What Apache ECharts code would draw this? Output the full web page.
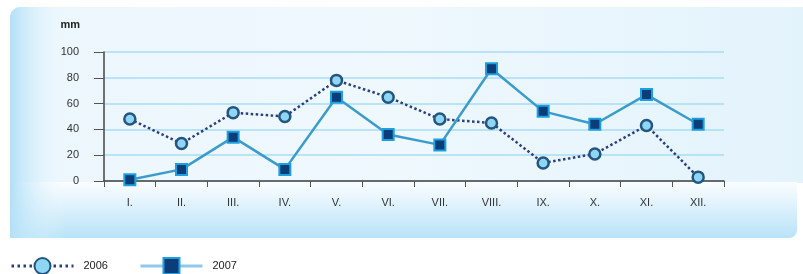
<!DOCTYPE html>
<html><head><meta charset="utf-8">
<script src="https://cdn.jsdelivr.net/npm/echarts@6/dist/echarts.min.js"></script>
<style>html,body{margin:0;padding:0;background:#fff}#c{width:803px;height:274px}</style>
</head><body><div id="c"></div>
<script>
const months = ['I.','II.','III.','IV.','V.','VI.','VII.','VIII.','IX.','X.','XI.','XII.'];
const s2006 = [48, 29, 53, 50, 78, 65, 48, 45, 14, 21, 43, 3];
const s2007 = [1, 9, 34, 9, 65, 36, 28, 87, 54, 44, 67, 44];
const yTicks = {min: 0, max: 100, interval: 20};
const FONT = '"Liberation Sans", Arial, sans-serif';

const chart = echarts.init(document.getElementById('c'));
const LG = echarts.graphic.LinearGradient;
chart.setOption({
  animation: false,
  graphic: [
    {type:'rect', z:-10, silent:true, shape:{x:10,y:7,width:793,height:176,r:[10,0,0,0]},
     style:{fill:new LG(0,0,1,0,[{offset:0,color:'#ecf7fd'},{offset:0.5,color:'#eef8fd'},{offset:1,color:'#e3f3fc'}])}},
    {type:'rect', z:-9, silent:true, shape:{x:10,y:182,width:787,height:56,r:[0,0,8,0]},
     style:{fill:new LG(0,0,0,1,[{offset:0,color:'#fbfdff'},{offset:1,color:'#b8e3f8'}])}},
    {type:'rect', z:-8, silent:true, shape:{x:10,y:7,width:55,height:231,r:[10,0,0,0]},
     style:{fill:new LG(0,0,1,0,[{offset:0,color:'rgba(178,224,247,1)'},{offset:1,color:'rgba(240,249,254,0)'}])}}
  ],
  grid: {left: 104, right: 79, top: 52, bottom: 93, containLabel: false},
  legend: {
    left: 10, top: 257, padding: 0, itemWidth: 62, itemHeight: 20, itemGap: 31,
    textStyle: {fontFamily: FONT, fontSize: 11, color: '#222', padding: [0,0,0,5]},
    data: [
      {name:'2006', lineStyle:{width:3, type:[2.5,3.5], color:'#2b3f80'}},
      {name:'2007', lineStyle:{width:3, type:'solid', color:'#8fc9ea'}}
    ]
  },
  xAxis: {
    type: 'category', data: months, boundaryGap: true,
    axisLine: {lineStyle: {color: '#444', width: 1.5}},
    axisTick: {show: true, length: 6, lineStyle: {color: '#555'}},
    axisLabel: {fontFamily: FONT, fontSize: 11, color: '#333', margin: 16}
  },
  yAxis: {
    type: 'value', min: yTicks.min, max: yTicks.max, interval: yTicks.interval,
    name: 'mm', nameLocation: 'end', nameGap: 22,
    nameTextStyle: {fontFamily: FONT, fontSize: 11, fontWeight: 'bold', color: '#222', align: 'right', padding: [0, 24, 0, 0]},
    axisLine: {show: true, lineStyle: {color: '#444', width: 1.5}},
    axisTick: {show: true, length: 10, lineStyle: {color: '#555'}},
    axisLabel: {fontFamily: FONT, fontSize: 11, color: '#333', margin: 25},
    splitLine: {lineStyle: {color: '#a9ddf3', width: 1.5}}
  },
  series: [
    {name:'2006', type:'line', data:s2006, symbol:'circle', symbolSize:11, z:3,
     lineStyle:{color:'#2b3f80', width:2.5, type:[2.5,2.5]},
     itemStyle:{color:'#8fd6f4', borderColor:'#23557f', borderWidth:2.5}},
    {name:'2007', type:'line', data:s2007, symbol:'rect', symbolSize:11, z:4,
     lineStyle:{color:'#3a9bcc', width:2.5},
     itemStyle:{color:'#0b3d78', borderColor:'#1ea0e0', borderWidth:2}}
  ]
});
</script></body></html>
